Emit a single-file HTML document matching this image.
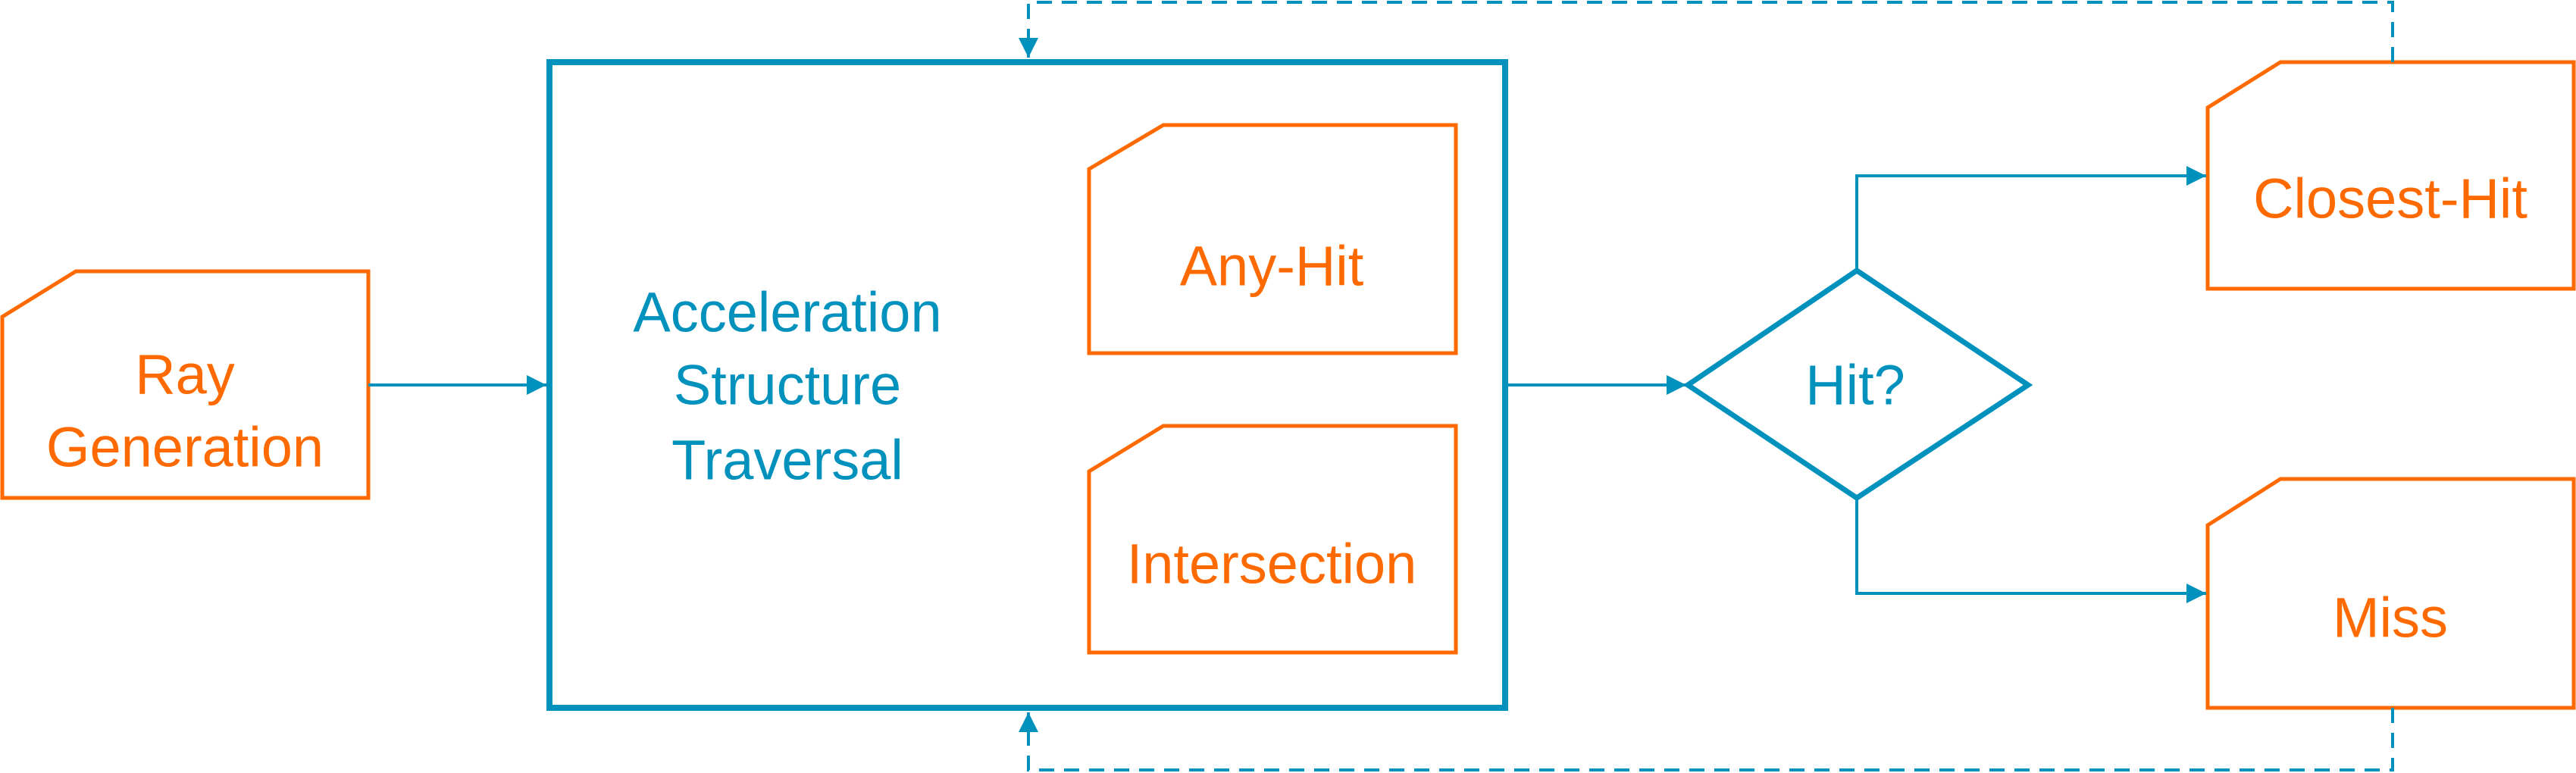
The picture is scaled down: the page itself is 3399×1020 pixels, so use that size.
<!DOCTYPE html>
<html><head><meta charset="utf-8"><style>html,body{margin:0;padding:0;background:#fff}svg{display:block}</style></head>
<body>
<svg width="3399" height="1020" viewBox="0 0 3399 1020" xmlns="http://www.w3.org/2000/svg">
<defs>
<marker id="ar" viewBox="0 0 10 10" refX="10" refY="5" markerWidth="6.5" markerHeight="6.5" markerUnits="strokeWidth" orient="auto"><path d="M0,0 L10,5 L0,10 z" fill="#0091bd"/></marker>
</defs>
<g fill="none" stroke="#ff6a00" stroke-width="5">
<path d="M3,418 L100,358 L486,358 L486,657 L3,657 Z"/>
<path d="M1437,223 L1535,165 L1921,165 L1921,466 L1437,466 Z"/>
<path d="M1437,622 L1535,562 L1921,562 L1921,861 L1437,861 Z"/>
<path d="M2913,142 L3009,82 L3396,82 L3396,381 L2913,381 Z"/>
<path d="M2913,693 L3009,632 L3396,632 L3396,934 L2913,934 Z"/>
</g>
<rect x="725" y="82" width="1261" height="852" fill="none" stroke="#0091bd" stroke-width="8"/>
<path d="M2227,508 L2450,357 L2676,508 L2450,657 Z" fill="none" stroke="#0091bd" stroke-width="7"/>
<g fill="none" stroke="#0091bd" stroke-width="4">
<path d="M486,508 L721,508" marker-end="url(#ar)"/>
<path d="M1990,508 L2225,508" marker-end="url(#ar)"/>
<path d="M2450,357 L2450,232 L2911,232" marker-end="url(#ar)"/>
<path d="M2450,657 L2450,783 L2911,783" marker-end="url(#ar)"/>
</g>
<g fill="none" stroke="#0091bd" stroke-width="4" stroke-dasharray="20,13">
<path d="M3157,82 L3157,3 L1357,3 L1357,76" marker-end="url(#ar)"/>
<path d="M3157,934 L3157,1016 L1357,1016 L1357,940" marker-end="url(#ar)"/>
</g>
<g font-family="'Liberation Sans', sans-serif" font-size="74" text-anchor="middle" dominant-baseline="central">
<g fill="#ff6a00">
<text x="244" y="494">Ray</text>
<text x="244" y="590">Generation</text>
<text x="1678" y="351">Any-Hit</text>
<text x="1678" y="744">Intersection</text>
<text x="3154" y="262">Closest-Hit</text>
<text x="3154" y="815">Miss</text>
</g>
<g fill="#0091bd">
<text x="1039" y="412">Acceleration</text>
<text x="1039" y="508">Structure</text>
<text x="1039" y="607">Traversal</text>
<text x="2448" y="508">Hit?</text>
</g>
</g>
</svg>
</body></html>
